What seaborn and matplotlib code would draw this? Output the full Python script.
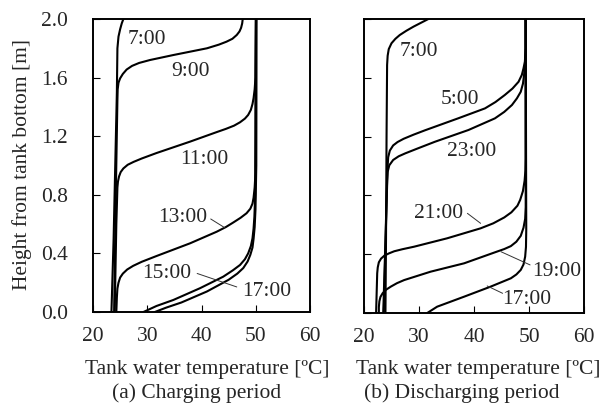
import numpy as np
import pandas as pd
import seaborn as sns
from matplotlib import pyplot as plt

# temperature profiles: (temperature [C], height [m])
# (a) charging period
a_0700 = [(23.4, 0.0), (23.8, 0.5), (24.1, 1.0), (24.4, 1.5), (24.5, 1.8), (24.7, 1.88),
          (25.0, 1.93), (25.3, 1.97), (25.6, 2.0)]
a_0900 = [(23.9, 0.0), (24.2, 0.8), (24.5, 1.45), (24.55, 1.52), (24.7, 1.565), (25.0, 1.595),
          (25.5, 1.625), (26.2, 1.655), (27.2, 1.68), (28.5, 1.70), (30.5, 1.72), (34.8, 1.754),
          (41.0, 1.80), (43.2, 1.825), (44.6, 1.845), (45.7, 1.865), (46.5, 1.891), (47.0, 1.915),
          (47.3, 1.94), (47.5, 1.97), (47.6, 2.0)]
a_1100 = [(24.0, 0.0), (24.3, 0.6), (24.5, 0.85), (24.6, 0.89), (24.8, 0.925), (25.1, 0.955),
          (25.6, 0.98), (26.4, 1.005), (27.5, 1.025), (29.0, 1.048), (31.7, 1.085), (37.9, 1.163),
          (42.8, 1.228), (44.5, 1.25), (46.0, 1.272), (47.1, 1.295), (48.0, 1.32), (48.6, 1.345),
          (49.1, 1.38), (49.4, 1.42), (49.6, 1.46), (49.8, 1.52), (49.95, 1.6), (50.05, 2.0)]
a_1300 = [(24.3, 0.0), (24.4, 0.1), (24.5, 0.16), (24.7, 0.2), (25.0, 0.235), (25.5, 0.262),
          (26.3, 0.29), (27.4, 0.315), (29.0, 0.343), (31.7, 0.382), (37.9, 0.469), (42.8, 0.548),
          (44.5, 0.58), (45.9, 0.612), (47.2, 0.643), (48.3, 0.674), (49.0, 0.705), (49.4, 0.74),
          (49.6, 0.78), (49.8, 0.85), (49.95, 0.95), (50.0, 1.2), (50.05, 2.0)]
a_1500 = [(29.3, 0.0), (31.7, 0.041), (34.8, 0.082), (39.7, 0.162), (44.0, 0.241), (45.8, 0.285),
          (47.1, 0.321), (48.0, 0.36), (48.6, 0.40), (49.1, 0.45), (49.4, 0.503), (49.6, 0.57),
          (49.75, 0.65), (49.9, 0.8), (50.0, 2.0)]
a_1700 = [(31.4, 0.0), (33.5, 0.03), (36.3, 0.065), (41.0, 0.14), (45.0, 0.22), (46.6, 0.262),
          (47.7, 0.30), (48.5, 0.345), (49.0, 0.39), (49.4, 0.44), (49.6, 0.50), (49.8, 0.58),
          (49.95, 0.7), (50.1, 1.0), (50.15, 2.0)]

# (b) discharging period
b_0700 = [(23.9, 0.0), (24.0, 0.5), (24.1, 1.2), (24.2, 1.687), (24.3, 1.75), (24.5, 1.795),
          (25.0, 1.835), (25.7, 1.865), (26.5, 1.891), (27.7, 1.92), (29.0, 1.948), (30.4, 1.975),
          (31.7, 2.0)]
b_0500 = [(23.6, 0.0), (24.0, 0.6), (24.3, 1.0), (24.4, 1.06), (24.7, 1.105), (25.3, 1.14),
          (26.1, 1.163), (27.2, 1.185), (29.0, 1.213), (31.1, 1.243), (37.1, 1.324), (42.0, 1.392),
          (43.9, 1.435), (45.6, 1.483), (47.0, 1.527), (48.1, 1.573), (48.7, 1.62), (49.0, 1.664),
          (49.25, 1.71), (49.4, 1.8), (49.4, 2.0)]
b_2300 = [(23.5, 0.0), (23.9, 0.5), (24.2, 0.9), (24.3, 0.96), (24.6, 1.005), (25.3, 1.041),
          (26.3, 1.066), (27.5, 1.086), (29.8, 1.12), (32.9, 1.165), (39.0, 1.245), (43.8, 1.324),
          (45.5, 1.368), (46.9, 1.415), (47.8, 1.46), (48.5, 1.505), (48.9, 1.56), (49.1, 1.619),
          (49.3, 1.7), (49.4, 1.8), (49.4, 2.0)]
b_2100 = [(22.2, 0.0), (22.4, 0.27), (22.5, 0.31), (22.7, 0.345), (23.1, 0.37), (23.7, 0.39),
          (24.5, 0.405), (25.5, 0.42), (27.0, 0.434), (29.1, 0.451), (35.1, 0.508), (41.2, 0.576),
          (43.5, 0.61), (45.5, 0.65), (46.8, 0.685), (47.9, 0.73), (48.4, 0.77), (48.9, 0.83),
          (49.2, 0.9), (49.35, 0.97), (49.4, 1.05), (49.4, 2.0)]
b_1900 = [(22.7, 0.0), (22.7, 0.04), (22.8, 0.08), (23.0, 0.11), (23.4, 0.135), (24.0, 0.158),
          (24.9, 0.18), (26.0, 0.203), (27.3, 0.224), (32.1, 0.281), (38.2, 0.338), (44.2, 0.418),
          (45.5, 0.435), (46.7, 0.455), (47.7, 0.485), (48.5, 0.525), (49.0, 0.58), (49.3, 0.64),
          (49.4, 0.72), (49.4, 2.0)]
b_1700 = [(31.5, 0.0), (33.3, 0.043), (38.2, 0.111), (43.0, 0.179), (46.7, 0.236), (47.7, 0.262),
          (48.5, 0.293), (49.0, 0.33), (49.3, 0.383), (49.45, 0.45), (49.5, 0.565), (49.4, 2.0)]

x_ticks = [20, 30, 40, 50, 60]
y_ticks = [0.0, 0.4, 0.8, 1.2, 1.6, 2.0]

sns.set_theme(style="white")
plt.rcParams["font.family"] = ["Liberation Serif", "DejaVu Serif"]
FS = 15.5

W, H = 609, 403
fig = plt.figure(figsize=(W / 100, H / 100), dpi=100)


def px_axes(x0, y0, x1, y1):
    return fig.add_axes([x0 / W, 1 - y1 / H, (x1 - x0) / W, (y1 - y0) / H])


ax_a = px_axes(93, 19, 310, 312)
ax_b = px_axes(364, 19, 584, 313)


def draw(ax, curves):
    for pts in curves:
        df = pd.DataFrame(pts, columns=["T", "h"])
        sns.lineplot(data=df, x="T", y="h", sort=False, estimator=None, ax=ax,
                     color="black", linewidth=1.5)
    for line in ax.get_lines():
        line.set_solid_joinstyle("round")
    ax.set_xlim(20, 60)
    ax.set_ylim(0, 2.0)
    ax.set_xticks(x_ticks)
    ax.set_yticks(y_ticks)
    ax.set_xlabel("")
    ax.set_ylabel("")
    ax.tick_params(direction="in", length=5, width=0.8, color="black",
                   labelsize=FS, bottom=True, left=True, top=False, right=False)
    ax.tick_params(axis="x", pad=11)
    ax.tick_params(axis="y", pad=18)
    for s in ax.spines.values():
        s.set_color("black")
        s.set_linewidth(1.4)


draw(ax_a, [a_0700, a_0900, a_1100, a_1300, a_1500, a_1700])
draw(ax_b, [b_0700, b_0500, b_2300, b_2100, b_1900, b_1700])
ax_a.set_yticklabels(["0.0", "0.4", "0.8", "1.2", "1.6", "2.0"])
ax_b.set_yticklabels([])

# time labels (text position in data coords) and leader lines
for ax, items in [
    (ax_a, [("7:00", 29.95, 1.86), ("9:00", 37.9, 1.64), ("11:00", 40.6, 1.04),
            ("13:00", 36.5, 0.648), ("15:00", 33.6, 0.266), ("17:00", 52.0, 0.143)]),
    (ax_b, [("7:00", 29.9, 1.778), ("5:00", 37.5, 1.449), ("23:00", 39.6, 1.097),
            ("21:00", 33.6, 0.678), ("19:00", 55.0, 0.281), ("17:00", 49.6, 0.093)]),
]:
    for txt, tx, ty in items:
        ax.text(tx, ty, txt, ha="center", va="center", fontsize=FS)

for ax, segs in [
    (ax_a, [((41.7, 44.3), (0.635, 0.575)), ((39.2, 46.5), (0.263, 0.171))]),
    (ax_b, [((38.8, 41.2), (0.678, 0.61)), ((44.9, 50.2), (0.417, 0.327)),
            ((42.4, 45.2), (0.184, 0.134))]),
]:
    for xs, ys in segs:
        ax.plot(xs, ys, color="#333333", linewidth=0.7)

fig.text(22 / W, 1 - 165 / H, "Height from tank bottom [m]", rotation=90,
         ha="center", va="center", fontsize=FS)
fig.text(207 / W, 1 - 374 / H, "Tank water temperature [ºC]", ha="center",
         va="baseline", fontsize=FS)
fig.text(478.5 / W, 1 - 374 / H, "Tank water temperature [ºC]", ha="center",
         va="baseline", fontsize=FS)
fig.text(197 / W, 1 - 398 / H, "(a) Charging period", ha="center",
         va="baseline", fontsize=FS)
fig.text(461.5 / W, 1 - 398 / H, "(b) Discharging period", ha="center",
         va="baseline", fontsize=FS)

fig.savefig("out.png", dpi=100)
